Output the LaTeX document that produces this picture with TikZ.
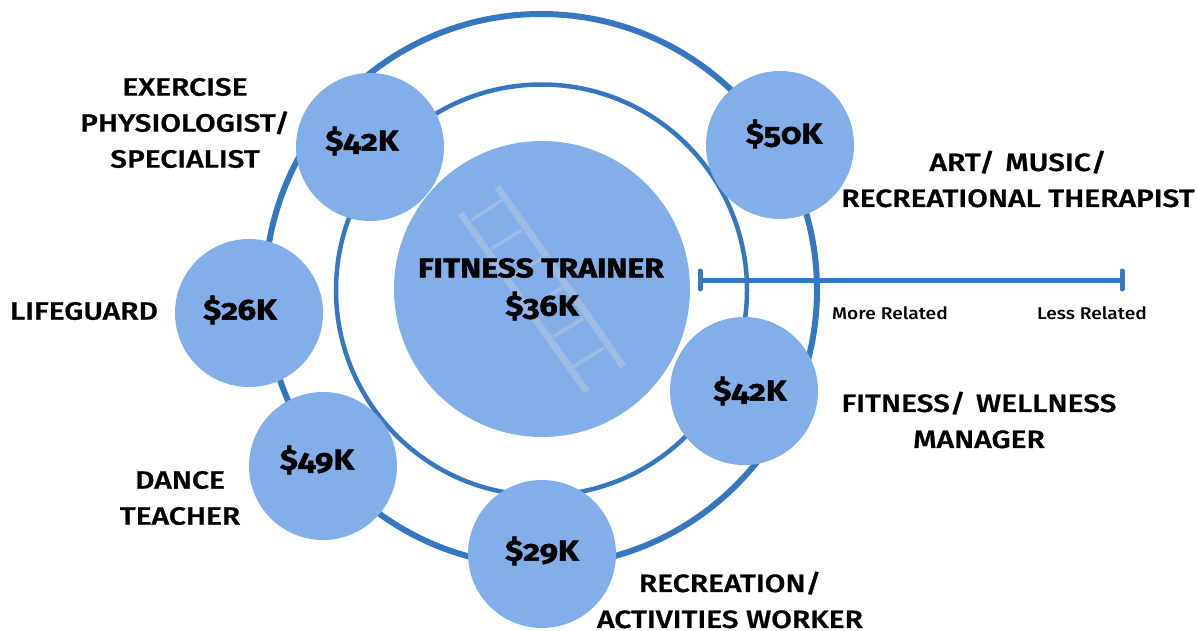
\documentclass[tikz,border=0pt]{standalone}
\usepackage{fontspec}
\setmainfont{Fira Sans}[Numbers=OldStyle]
\newfontfamily\heavyfont{Fira Sans}[Numbers=OldStyle,FakeBold=1.6,FakeStretch=1.13,UprightFont=* Bold]
\newfontfamily\titlefont{Fira Sans}[FakeBold=1.6,FakeStretch=1.18,UprightFont=* Bold]
\newfontfamily\labelfont{Fira Sans}[FakeStretch=1.2,FakeBold=0.9,UprightFont=* Medium]
\newfontfamily\smallfont{Fira Sans}[FakeStretch=1.13,UprightFont=* Medium]
\definecolor{disc}{HTML}{82AEE9}
\definecolor{ringc}{HTML}{3578C1}
\definecolor{ladc}{HTML}{9DBBE3}
\tikzset{
 x=1pt,y=-1pt,
 ring/.style={circle,draw=ringc,minimum size=#1,inner sep=0pt},
 bubble/.style={circle,fill=disc,minimum size=148pt,inner sep=0pt},
 centre/.style={circle,fill=disc,minimum size=296pt,inner sep=0pt},
 salary/.style={font=\fontsize{29}{29}\selectfont\heavyfont,text=black,inner sep=0pt},
 title/.style={font=\fontsize{27}{27}\selectfont\titlefont,text=black,inner sep=0pt},
 job/.style={font=\fontsize{25}{36}\selectfont\labelfont,text=black,align=center,inner sep=0pt},
 small/.style={font=\fontsize{17}{20}\selectfont\smallfont,text=black,inner sep=0pt},
 scaleline/.style={draw=ringc,line width=5pt},
 tick/.style={draw=ringc,line width=5pt,line cap=round},
 rail/.style={draw=ladc,line width=7pt},
 rung/.style={draw=ladc,line width=3.6pt},
}
\begin{document}
\begin{tikzpicture}
\useasboundingbox (0,0) rectangle (1197,631);
\node[ring=552pt,line width=6pt] (outer) at (541,290) {};
\node[ring=411pt,line width=4.5pt] (inner) at (541.5,290) {};
\node[centre] (c) at (542,289) {};
% ladder
\draw[rung] (471.7,220) -- (501.7,200);
\draw[rung] (491.7,248.3) -- (521.7,230);
\draw[rung] (511.7,276.7) -- (541.7,258.3);
\draw[rung] (533.3,306.7) -- (563.3,286.7);
\draw[rung] (553.3,336.7) -- (583.3,318.3);
\draw[rung] (573.3,366.7) -- (603.3,348.3);
\draw[rail] (497.3,186.7) -- (623.3,366.7);
\draw[rail] (460.5,213.3) -- (586.7,391.7);
\node[bubble] (a) at (370,147) {};
\node[bubble] (b) at (780,145) {};
\node[bubble] (d) at (249,313) {};
\node[bubble] (e) at (744,391) {};
\node[bubble] (f) at (323,466) {};
\node[bubble] (g) at (542,554) {};
\node[salary] (sa) at (362,141) {\$42K};
\node[salary] (sb) at (784,134) {\$50K};
\node[salary] (sd) at (240,310) {\$26K};
\node[salary] (se) at (750,391) {\$42K};
\node[salary] (sf) at (317,460) {\$49K};
\node[salary] (sg) at (542,551) {\$29K};
\node[title] (tt) at (541,268) {FITNESS TRAINER};
\node[salary] (ts) at (542,306) {\$36K};
\node[job] (ja) at (185,123) {EXERCISE\\PHYSIOLOGIST/\\SPECIALIST};
\node[job] (jb) at (1018,179) {ART/\kern3pt{} MUSIC/\\RECREATIONAL THERAPIST};
\node[job] (jd) at (84,311) {LIFEGUARD};
\node[job] (je) at (979,420) {FITNESS/\kern3pt{} WELLNESS\\MANAGER};
\node[job] (jf) at (180,498) {DANCE\\TEACHER};
\node[job] (jg) at (730,600) {RECREATION/\\ACTIVITIES WORKER};
\coordinate (l) at (700,280);
\coordinate (r) at (1122,280);
\draw[scaleline] (l) -- (r);
\draw[tick] ([yshift=-9pt]l) -- ([yshift=9pt]l);
\draw[tick] ([yshift=-9pt]r) -- ([yshift=9pt]r);
\node[small] (m) at (890,313) {More Related};
\node[small] (n) at (1092,313) {Less Related};
\end{tikzpicture}
\end{document}
